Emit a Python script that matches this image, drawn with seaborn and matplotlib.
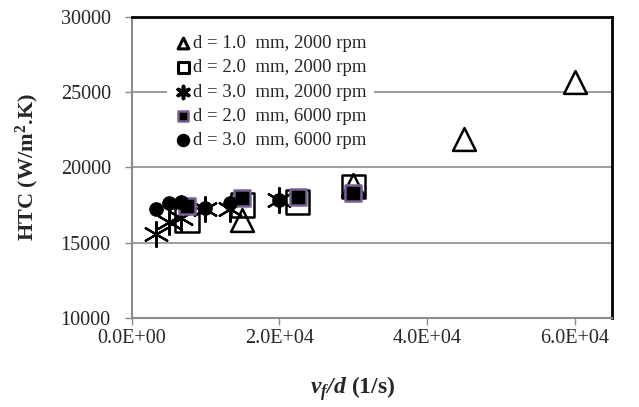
import matplotlib
matplotlib.use("Agg")
import matplotlib.pyplot as plt
import seaborn as sns

# v_f/d (1/s) and HTC (W/m2.K) per case
x_d1_2000 = [15000, 30000, 45000, 60000]
y_d1_2000 = [16500, 18800, 21900, 25650]

x_d2_2000 = [7500, 15000, 22500, 30000]
y_d2_2000 = [16500, 17500, 17700, 18700]

x_d3_2000 = [3333, 5000, 6667, 10000, 13333, 20000]
y_d3_2000 = [15600, 16350, 16650, 17200, 17250, 17800]

x_d2_6000 = [7500, 15000, 22500, 30000]
y_d2_6000 = [17450, 17950, 18000, 18300]

x_d3_6000 = [3333, 5000, 6667, 10000, 13333, 20000]
y_d3_6000 = [17250, 17650, 17700, 17300, 17650, 17850]

labels = ["d = 1.0  mm, 2000 rpm", "d = 2.0  mm, 2000 rpm", "d = 3.0  mm, 2000 rpm",
          "d = 2.0  mm, 6000 rpm", "d = 3.0  mm, 6000 rpm"]

sns.set_style("white")
plt.rcParams['font.family'] = ['Liberation Serif', 'DejaVu Serif']
plt.rcParams['mathtext.fontset'] = 'custom'
plt.rcParams['mathtext.rm'] = 'Liberation Serif'
plt.rcParams['mathtext.it'] = 'Liberation Serif:italic'
plt.rcParams['mathtext.bf'] = 'Liberation Serif:bold'
plt.rcParams['mathtext.bfit'] = 'Liberation Serif:italic:bold'

fig = plt.figure(figsize=(6.39, 4.07), dpi=100)
ax = fig.add_axes([0.206, 0.219, 0.751, 0.740])

ax.grid(axis='y', color='#8c8c8c', linewidth=1.2, zorder=0)

sns.scatterplot(x=x_d1_2000, y=y_d1_2000, marker='^', s=270, facecolor='white',
                edgecolor='black', linewidth=1.8, label=labels[0], ax=ax, zorder=3)
sns.scatterplot(x=x_d2_2000, y=y_d2_2000, marker='s', s=280, facecolor='none',
                edgecolor='black', linewidth=1.8, label=labels[1], ax=ax, zorder=3)
sns.scatterplot(x=x_d3_2000, y=y_d3_2000, marker=(6, 2, 0), s=320, color='black',
                linewidth=1.6, label=labels[2], ax=ax, zorder=3)
sns.scatterplot(x=x_d2_6000, y=y_d2_6000, marker='s', s=125, facecolor='black',
                edgecolor='#7a5f93', linewidth=1.8, label=labels[3], ax=ax, zorder=4)
sns.scatterplot(x=x_d3_6000, y=y_d3_6000, marker='o', s=95, color='black',
                edgecolor='black', label=labels[4], ax=ax, zorder=4)

ax.set_xlim(0, 65000)
ax.set_ylim(10000, 30000)
ax.set_xticks([0, 20000, 40000, 60000])
ax.set_xticklabels(['0.0E+00', '2.0E+04', '4.0E+04', '6.0E+04'])
ax.set_yticks([10000, 15000, 20000, 25000, 30000])
ax.tick_params(axis='both', direction='out', length=5, width=1, color='#8c8c8c',
               labelsize=14.5, bottom=True, left=True)
ax.tick_params(axis='y', pad=10)
ax.tick_params(axis='x', pad=3)

for side in ['top', 'right']:
    ax.spines[side].set_color('black')
    ax.spines[side].set_linewidth(2)
for side in ['left', 'bottom']:
    ax.spines[side].set_color('#8c8c8c')
    ax.spines[side].set_linewidth(1.5)

ax.set_ylabel(r'HTC (W/m$\mathbf{^2}$.K)', fontsize=16, fontweight='bold', va='center')
ax.yaxis.set_label_coords(-0.218, 0.5)
ax.set_xlabel(r'$\mathbfit{v_f/d}$ (1/s)', fontsize=17, fontweight='bold', va='center')
ax.xaxis.set_label_coords(0.461, -0.235)

leg = ax.legend(loc='upper left', bbox_to_anchor=(0.055, 0.995), frameon=True,
                framealpha=1, edgecolor='white', fontsize=13.5, markerscale=1.0,
                handletextpad=0.05, handlelength=0.9, labelspacing=0.38, borderpad=0.4)
leg.get_frame().set_linewidth(0)
legend_sizes = [60, 60, 75, 55, 75]
legend_widths = [2.2, 2.2, 2.6, 1.8, 1.0]
for h, sz, lw in zip(leg.legend_handles, legend_sizes, legend_widths):
    h.set_sizes([sz])
    h.set_linewidth(lw)

fig.savefig('out.png', dpi=100)
